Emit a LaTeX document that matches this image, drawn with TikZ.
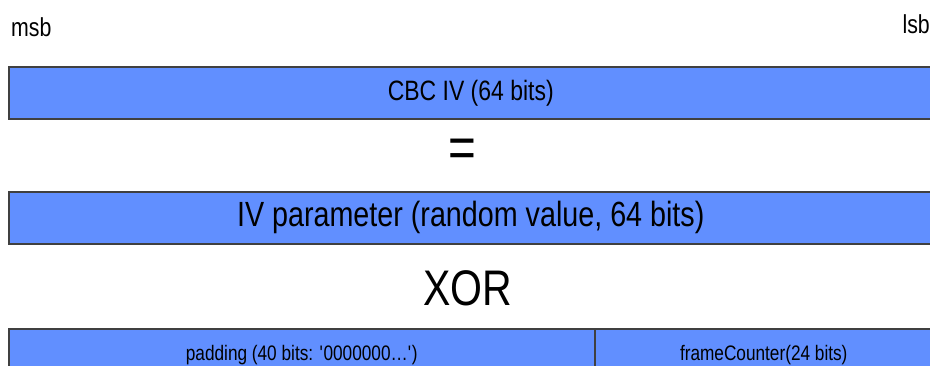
\documentclass[tikz,border=0pt]{standalone}
\usepackage{fontspec}
\setmainfont[FakeStretch=0.82]{Liberation Sans}
\usepackage{xcolor}
\definecolor{fieldblue}{RGB}{97,143,255}
\newcommand{\sizedtext}[1]{\fontsize{#1}{#1}\selectfont}

\begin{document}
\begin{tikzpicture}[
    x=1pt, y=-1pt,
    field/.style={rectangle, draw=black!75, line width=1.5pt, fill=fieldblue, inner sep=0pt, minimum height=52pt, anchor=north west},
    tag/.style={inner sep=0pt, font=\sizedtext{26}}
]
    \useasboundingbox (0,0) rectangle (930,365);
    \clip (0,0) rectangle (930,365);

    \node[tag, anchor=base west] (msb) at (11,36) {msb};
    \node[tag, anchor=base east] (lsb) at (930,33) {lsb};

    \node[field, minimum width=924pt, font=\sizedtext{28}] (cbciv) at (8,66) {CBC IV (64 bits)};
    \node[inner sep=0pt, font=\sizedtext{58}] (equals) at (462,153) {=};
    \node[field, minimum width=924pt, font=\sizedtext{35}] (ivparam) at (8,191) {IV parameter (random value, 64 bits)};
    \node[inner sep=0pt, anchor=base, font=\sizedtext{50}] (xor) at (468,305) {XOR};
    \node[field, minimum width=586pt, font=\sizedtext{21}] (padding) at (8,328) {padding (40 bits: \textquotesingle0000000\dots\textquotesingle)};
    \node[field, minimum width=338pt, font=\sizedtext{21}] (framecounter) at (594,328) {frameCounter(24 bits)};
\end{tikzpicture}
\end{document}
